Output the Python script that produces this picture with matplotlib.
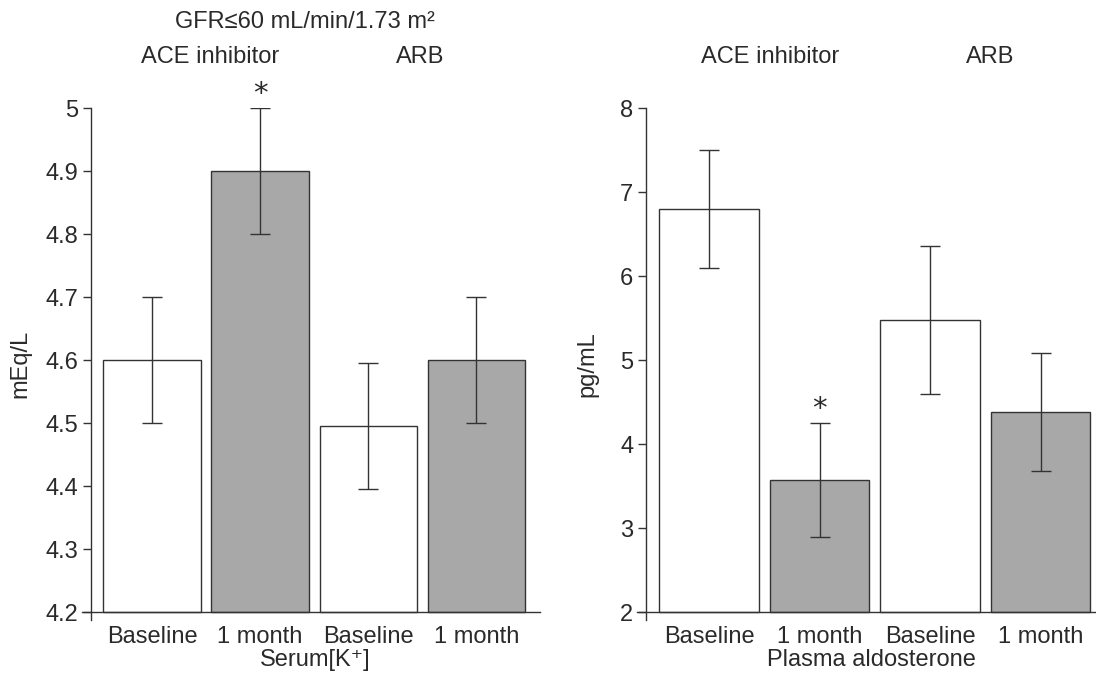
import matplotlib
matplotlib.use("Agg")
import matplotlib.pyplot as plt
import numpy as np

plt.rcParams['font.family'] = ['Liberation Sans', 'DejaVu Sans']

categories = ["Baseline", "1 month", "Baseline", "1 month"]
groups = ["ACE inhibitor", "ARB"]

k_values = [4.60, 4.90, 4.495, 4.60]
k_errors = [0.10, 0.10, 0.10, 0.10]
k_sig = [False, True, False, False]

aldo_values = [6.80, 3.57, 5.48, 4.38]
aldo_errors = [0.70, 0.68, 0.88, 0.70]
aldo_sig = [False, True, False, False]

colors = ["white", "#a8a8a8", "white", "#a8a8a8"]
txt = "#2a2a2a"
FS = 17

fig = plt.figure(figsize=(10.96, 6.76), dpi=100)


def panel(rect, values, errors, sig, base, top, ticks, ylabel, xlabel, xlim, ylpad):
    ax = fig.add_axes(rect)
    x = np.arange(len(values))
    vals = np.array(values)
    ax.bar(x, vals - base, bottom=base, width=0.9, color=colors,
           edgecolor="#333333", linewidth=1.0, zorder=2)
    ax.errorbar(x, vals, yerr=errors, fmt="none", ecolor="#333333",
                elinewidth=1.0, capsize=7.5, capthick=1.0, zorder=3)
    for xi, v, e, s in zip(x, vals, errors, sig):
        if s:
            ax.text(xi, v + e, "*", ha="center", va="bottom",
                    fontsize=21, color=txt, family="DejaVu Sans")
    rng = top - base
    ax.set_ylim(base - rng * 0.0159, top)
    ax.set_xlim(*xlim)
    ax.set_yticks(ticks)
    ax.set_yticklabels([f"{t:g}" for t in ticks])
    ax.set_xticks(x)
    ax.set_xticklabels(categories)
    for sp in ["top", "right", "bottom"]:
        ax.spines[sp].set_visible(False)
    ax.spines["left"].set_color("#333333")
    ax.spines["left"].set_linewidth(1.0)
    ax.plot([xlim[0] - 0.08, xlim[1]], [base, base], color="#333333",
            linewidth=1.0, clip_on=False, zorder=4)
    ax.tick_params(axis="y", direction="out", length=6, width=1.0,
                   labelsize=FS, colors="#333333", labelcolor=txt, pad=3)
    ax.tick_params(axis="x", length=0, labelsize=FS, labelcolor=txt, pad=4)
    ax.set_ylabel(ylabel, fontsize=FS, color=txt, labelpad=ylpad)
    ax.set_xlabel(xlabel, fontsize=FS, color=txt, labelpad=1)
    return ax


ax1 = panel([0.083, 0.0828, 0.4097, 0.7574], k_values, k_errors, k_sig,
            4.2, 5.0, [4.2, 4.3, 4.4, 4.5, 4.6, 4.7, 4.8, 4.9, 5.0],
            "mEq/L", "Serum[K⁺]", (-0.565, 3.59), 10)
ax2 = panel([0.5894, 0.0828, 0.4106, 0.7574], aldo_values, aldo_errors, aldo_sig,
            2.0, 8.0, [2, 3, 4, 5, 6, 7, 8],
            "pg/mL", "Plasma aldosterone", (-0.57, 3.5), 16)

fig.text(305 / 1096, 1 - 22 / 676, "GFR≤60 mL/min/1.73 m²", ha="center",
         va="center", fontsize=FS, color=txt)
fig.text(210 / 1096, 1 - 57 / 676, groups[0], ha="center", va="center",
         fontsize=FS, color=txt)
fig.text(420 / 1096, 1 - 57 / 676, groups[1], ha="center", va="center",
         fontsize=FS, color=txt)
fig.text(770 / 1096, 1 - 57 / 676, groups[0], ha="center", va="center",
         fontsize=FS, color=txt)
fig.text(990 / 1096, 1 - 57 / 676, groups[1], ha="center", va="center",
         fontsize=FS, color=txt)

fig.savefig("out.png", dpi=100, facecolor="white")
